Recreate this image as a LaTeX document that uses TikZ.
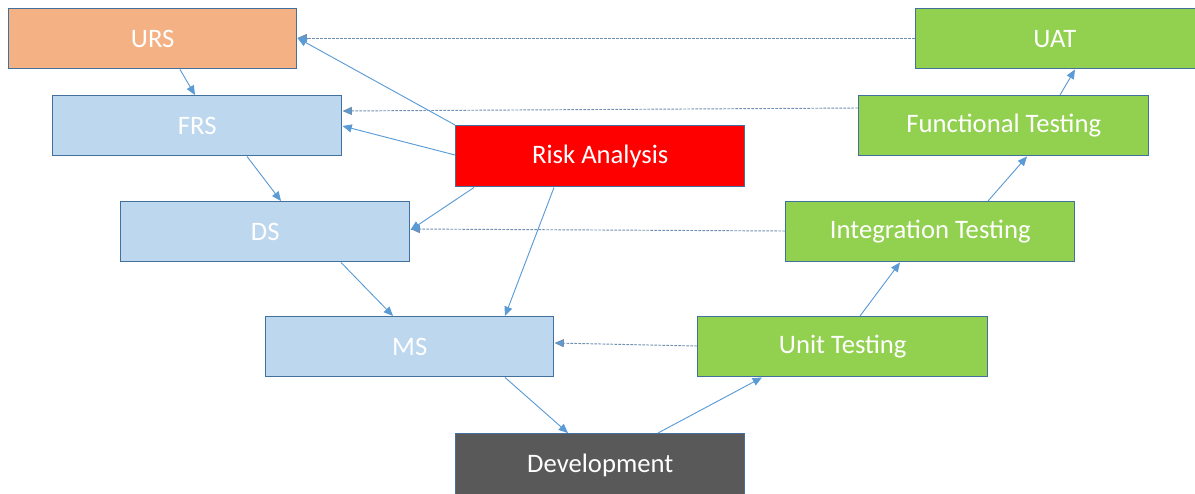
\documentclass[tikz,border=0pt]{standalone}
\usepackage{fontspec}
\setmainfont{Carlito}
\usetikzlibrary{calc,arrows.meta}
\definecolor{orangefill}{HTML}{F4B183}
\definecolor{bluefill}{HTML}{BDD7EE}
\definecolor{greenfill}{HTML}{92D050}
\definecolor{redfill}{HTML}{FF0000}
\definecolor{darkfill}{HTML}{595959}
\definecolor{boxline}{HTML}{41719C}
\definecolor{connline}{HTML}{5B9BD5}
\definecolor{dashline}{HTML}{6F8FB0}
\tikzset{
  box/.style={draw=boxline, line width=1.1pt, minimum width=288*0.75pt, minimum height=60*0.75pt,
    inner sep=0pt, text=white, font=\fontsize{20}{22}\selectfont, anchor=north west},
  conn/.style={draw=connline, line width=0.7pt, -{Triangle[length=7pt,width=6pt]}},
  back/.style={draw=dashline, line width=0.7pt, dash pattern=on 2pt off 1pt, -{Triangle[length=7pt,width=6pt,fill=connline]}},
}
\begin{document}
\begin{tikzpicture}[x=0.75pt,y=-0.75pt]
\useasboundingbox (0,0) rectangle (1195,493);
\node[box, fill=orangefill] (urs) at (8,8) {URS};
\node[box, fill=bluefill, minimum width=289*0.75pt] (frs) at (52,95) {FRS};
\node[box, fill=bluefill, minimum width=289*0.75pt] (ds) at (120,201) {DS};
\node[box, fill=bluefill] (ms) at (265,316) {MS};
\node[box, fill=redfill, minimum width=289*0.75pt, minimum height=61*0.75pt] (risk) at (455,125) {Risk Analysis};
\node[box, fill=darkfill, minimum width=289*0.75pt, minimum height=64*0.75pt] (dev) at (455,433) {\raisebox{3pt}{Development}};
\node[box, fill=greenfill, minimum width=281*0.75pt] (uat) at (915,8) {\hspace*{-2pt}UAT};
\node[box, fill=greenfill, minimum width=290*0.75pt] (func) at (858,95) {Functional Testing};
\node[box, fill=greenfill, minimum width=289*0.75pt] (integ) at (785,201) {Integration Testing};
\node[box, fill=greenfill, minimum width=290*0.75pt] (unit) at (697,316) {Unit Testing};

% main V flow
\draw[conn] ($(urs.south west)+(172,0)$) -- ($(frs.north west)+(143,0)$);
\draw[conn] ($(frs.south west)+(195,0)$) -- ($(ds.north west)+(161,0)$);
\draw[conn] ($(ds.south west)+(221,0)$) -- ($(ms.north west)+(128,0)$);
\draw[conn] ($(ms.south west)+(240,0)$) -- ($(dev.north west)+(113,0)$);
\draw[conn] ($(dev.north west)+(203,0)$) -- ($(unit.south west)+(65,0)$);
\draw[conn] ($(unit.north west)+(163,0)$) -- ($(integ.south west)+(115,0)$);
\draw[conn] ($(integ.north west)+(203,0)$) -- ($(func.south west)+(169,0)$);
\draw[conn] ($(func.north west)+(202,0)$) -- ($(uat.south west)+(160,0)$);

% verification back links
\draw[back] ($(uat.north west)+(0,30)$) -- ($(urs.north east)+(0,30)$);
\draw[back] ($(func.north west)+(0,13)$) -- ($(frs.north east)+(0,16)$);
\draw[back] ($(integ.north west)+(0,30)$) -- ($(ds.north east)+(0,28)$);
\draw[back] ($(unit.north west)+(0,30)$) -- ($(ms.north east)+(0,27)$);

% risk analysis
\draw[conn] (risk.north west) -- ($(urs.north east)+(0,30)$);
\draw[conn] ($(risk.north west)+(0,30)$) -- ($(frs.north east)+(0,31)$);
\draw[conn] ($(risk.south west)+(19,0)$) -- ($(ds.north east)+(0,29)$);
\draw[conn] ($(risk.south west)+(99,0)$) -- ($(ms.north west)+(240,0)$);
\end{tikzpicture}
\end{document}
